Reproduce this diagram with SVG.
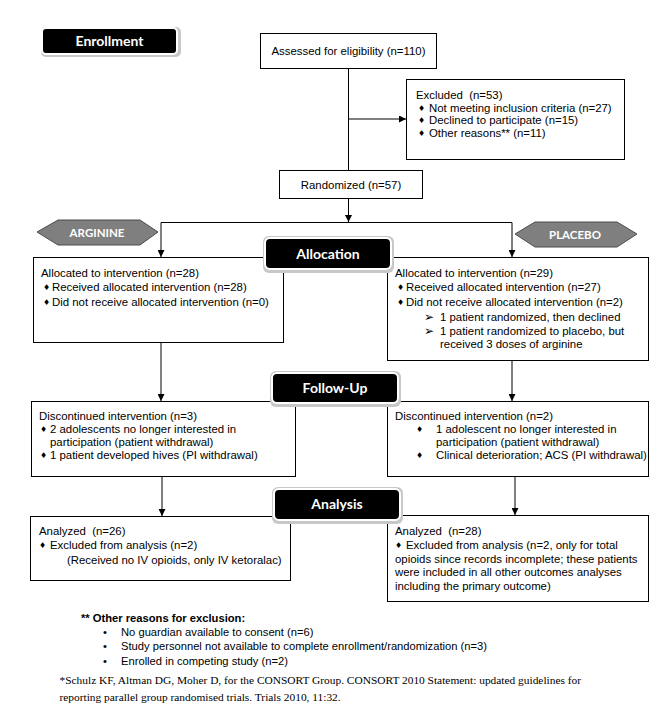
<svg xmlns="http://www.w3.org/2000/svg" width="663" height="725" viewBox="0 0 663 725">
<defs>
<style>
.box{fill:#fff;stroke:#000;stroke-width:1}
.t{font-family:"Liberation Sans",Arial,sans-serif;font-size:11.4px;fill:#000;white-space:pre}
.b{font-family:"DejaVu Sans",sans-serif;font-size:8px;fill:#000}
.ar{font-family:"DejaVu Sans",sans-serif;font-size:12px;font-weight:bold;fill:#000}
.badge{fill:#000;stroke:#fff;stroke-width:2}
.shadow{fill:#c8c8c8}
.bt{font-family:Lato,"Open Sans",sans-serif;font-weight:bold;font-size:14px;fill:#fff;text-anchor:middle}
.hex{fill:#7f7f7f;stroke:#4d4d4d;stroke-width:1}
.ht{font-family:Lato,"Open Sans",sans-serif;font-weight:bold;font-size:11.5px;fill:#fff;text-anchor:middle}
.ln{fill:none;stroke:#000;stroke-width:1}
.fn{font-family:"Liberation Sans",Arial,sans-serif;font-size:11.2px;fill:#000}
.ref{font-family:"Liberation Serif","Times New Roman",serif;font-size:11.4px;fill:#000}
</style>
<marker id="ah" viewBox="0 0 10 10" refX="10" refY="5" markerWidth="7" markerHeight="7" orient="auto" markerUnits="userSpaceOnUse">
<path d="M0,0 L10,5 L0,10 z" fill="#000"/>
</marker>
</defs>

<g id="connectors">
<path class="ln" d="M348.5,69 V170"/>
<path class="ln" d="M348.5,119 H406" marker-end="url(#ah)"/>
<path class="ln" d="M348.5,198 V222" marker-end="url(#ah)"/>
<path class="ln" d="M161,222.5 H512"/>
<path class="ln" d="M161,222.5 V257" marker-end="url(#ah)"/>
<path class="ln" d="M512,222.5 V257" marker-end="url(#ah)"/>
<path class="ln" d="M161,343 V401" marker-end="url(#ah)"/>
<path class="ln" d="M512,361 V401" marker-end="url(#ah)"/>
<path class="ln" d="M162,476 V516" marker-end="url(#ah)"/>
<path class="ln" d="M515,476 V515" marker-end="url(#ah)"/>
</g>

<g id="enrollment">
<rect class="shadow" x="41" y="27" width="140" height="30" rx="5"/>
<rect class="badge" x="42" y="28" width="135" height="26" rx="4"/>
<text class="bt" x="109.5" y="46">Enrollment</text>
</g>

<g id="assessed">
<rect class="box" x="260.5" y="33.5" width="176" height="35"/>
<text class="t" x="348.5" y="55" text-anchor="middle">Assessed for eligibility (n=110)</text>
</g>

<g id="excluded">
<rect class="box" x="406.5" y="79.5" width="218" height="80"/>
<text class="t" x="416" y="99" xml:space="preserve">Excluded  (n=53)</text>
<text class="b" x="418" y="111">♦</text><text class="t" x="429" y="112">Not meeting inclusion criteria (n=27)</text>
<text class="b" x="418" y="123">♦</text><text class="t" x="429" y="124">Declined to participate (n=15)</text>
<text class="b" x="418" y="136">♦</text><text class="t" x="429" y="137">Other reasons** (n=11)</text>
</g>

<g id="randomized">
<rect class="box" x="279.5" y="170.5" width="143" height="28"/>
<text class="t" x="351" y="189" text-anchor="middle">Randomized (n=57)</text>
</g>

<g id="arginine">
<polygon class="hex" points="37,232 58,220 140,220 158,232 140,245 58,245"/>
<text class="ht" x="97" y="237">ARGININE</text>
</g>

<g id="placebo">
<polygon class="hex" points="515,234 535,222 617,222 637,234 617,247 535,247"/>
<text class="ht" x="575" y="239">PLACEBO</text>
</g>

<g id="alloc-left">
<rect class="box" x="33.5" y="257.5" width="250" height="85"/>
<text class="t" x="41" y="277">Allocated to intervention (n=28)</text>
<text class="b" x="43" y="290">♦</text><text class="t" x="52" y="291">Received allocated intervention (n=28)</text>
<text class="b" x="43" y="305">♦</text><text class="t" x="52" y="306">Did not receive allocated intervention (n=0)</text>
</g>

<g id="alloc-right">
<rect class="box" x="387.5" y="257.5" width="261" height="103"/>
<text class="t" x="395" y="277">Allocated to intervention (n=29)</text>
<text class="b" x="397" y="290">♦</text><text class="t" x="406" y="291">Received allocated intervention (n=27)</text>
<text class="b" x="397" y="305">♦</text><text class="t" x="406" y="306">Did not receive allocated intervention (n=2)</text>
<text class="ar" x="424" y="321">➢</text><text class="t" x="440" y="321">1 patient randomized, then declined</text>
<text class="ar" x="424" y="335">➢</text><text class="t" x="440" y="335">1 patient randomized to placebo, but</text>
<text class="t" x="440" y="348">received 3 doses of arginine</text>
</g>

<g id="allocation">
<rect class="shadow" x="263" y="236" width="131" height="37" rx="6"/>
<rect class="badge" x="265" y="238" width="126" height="31" rx="5"/>
<text class="bt" x="328" y="258.5">Allocation</text>
</g>

<g id="follow-left">
<rect class="box" x="31.5" y="401.5" width="264" height="75"/>
<text class="t" x="39" y="420">Discontinued intervention (n=3)</text>
<text class="b" x="40" y="432">♦</text><text class="t" x="50" y="433">2 adolescents no longer interested in</text>
<text class="t" x="50" y="446">participation (patient withdrawal)</text>
<text class="b" x="40" y="458">♦</text><text class="t" x="50" y="459">1 patient developed hives (PI withdrawal)</text>
</g>

<g id="follow-right">
<rect class="box" x="387.5" y="401.5" width="261" height="75"/>
<text class="t" x="395" y="420">Discontinued intervention (n=2)</text>
<text class="b" x="416" y="432">♦</text><text class="t" x="436" y="433">1 adolescent no longer interested in</text>
<text class="t" x="436" y="446">participation (patient withdrawal)</text>
<text class="b" x="416" y="458">♦</text><text class="t" x="436" y="459">Clinical deterioration; ACS (PI withdrawal)</text>
</g>

<g id="followup">
<rect class="shadow" x="270" y="371" width="131" height="36" rx="6"/>
<rect class="badge" x="272" y="373" width="126" height="30" rx="5"/>
<text class="bt" x="335" y="393">Follow-Up</text>
</g>

<g id="analysis-left">
<rect class="box" x="30.5" y="516.5" width="260" height="64"/>
<text class="t" x="39" y="535" xml:space="preserve">Analyzed  (n=26)</text>
<text class="b" x="39" y="548">♦</text><text class="t" x="50" y="549">Excluded from analysis (n=2)</text>
<text class="t" x="67" y="564">(Received no IV opioids, only IV ketoralac)</text>
</g>

<g id="analysis-right">
<rect class="box" x="387.5" y="515.5" width="261" height="86"/>
<text class="t" x="395" y="535" xml:space="preserve">Analyzed  (n=28)</text>
<text class="b" x="395" y="548">♦</text><text class="t" x="406" y="549">Excluded from analysis (n=2, only for total</text>
<text class="t" x="395" y="563">opioids since records incomplete; these patients</text>
<text class="t" x="395" y="576">were included in all other outcomes analyses</text>
<text class="t" x="395" y="590">including the primary outcome)</text>
</g>

<g id="analysis">
<rect class="shadow" x="272" y="487" width="131" height="37" rx="6"/>
<rect class="badge" x="274" y="489" width="126" height="31" rx="5"/>
<text class="bt" x="337" y="509">Analysis</text>
</g>

<g id="footnote">
<text class="fn" x="81" y="622" font-weight="bold">** Other reasons for exclusion:</text>
<text class="fn" x="103" y="636">•</text><text class="fn" x="121" y="636">No guardian available to consent (n=6)</text>
<text class="fn" x="103" y="650">•</text><text class="fn" x="121" y="650">Study personnel not available to complete enrollment/randomization (n=3)</text>
<text class="fn" x="103" y="665">•</text><text class="fn" x="121" y="665">Enrolled in competing study (n=2)</text>
<text class="ref" x="59.5" y="684">*Schulz KF, Altman DG, Moher D, for the CONSORT Group. CONSORT 2010 Statement: updated guidelines for</text>
<text class="ref" x="59.5" y="701">reporting parallel group randomised trials. Trials 2010, 11:32.</text>
</g>
</svg>
